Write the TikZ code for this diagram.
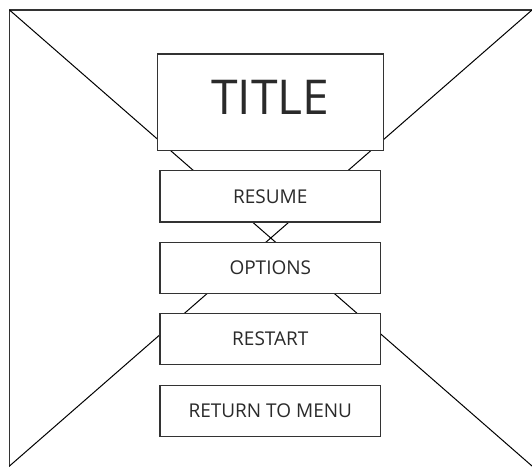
\documentclass[tikz,border=0pt]{standalone}
\usepackage{fontspec}
\setmainfont{Open Sans}
\definecolor{boxline}{HTML}{333333}
\definecolor{labeltext}{HTML}{2A2A2A}
\tikzset{
  menubox/.style={draw=boxline, fill=white, line width=1.1pt, minimum width=220.7pt,
    minimum height=51.3pt, inner sep=0pt, text=labeltext, font=\fontsize{19}{22}\selectfont},
  titlebox/.style={menubox, minimum width=225.5pt, minimum height=96.7pt,
    text depth=10pt, font=\fontsize{48}{56}\selectfont}
}
\begin{document}
\begin{tikzpicture}[x=1pt, y=-1pt]
\useasboundingbox (0,0) rectangle (532,466);
\clip (0,0) rectangle (532,466);

% frame and cross
\coordinate (tl) at (9.5,10);
\coordinate (tr) at (532,10);
\coordinate (bl) at (9.5,466);
\coordinate (br) at (532,466);
\draw [line width=1.2pt, draw=boxline] (tl) rectangle (534,468);
\draw [line width=1pt] (tl) -- (br);
\draw [line width=1pt] (tr) -- (bl);

% menu
\node [titlebox] (title) at (270.3,102.3) {TITLE};
\node [menubox] (resume) at (270.3,196.3) {RESUME};
\node [menubox] (options) at (270.3,267.8) {OPTIONS};
\node [menubox] (restart) at (270.3,339.2) {RESTART};
\node [menubox] (return) at (270.3,410.7) {RETURN TO MENU};

\end{tikzpicture}
\end{document}
